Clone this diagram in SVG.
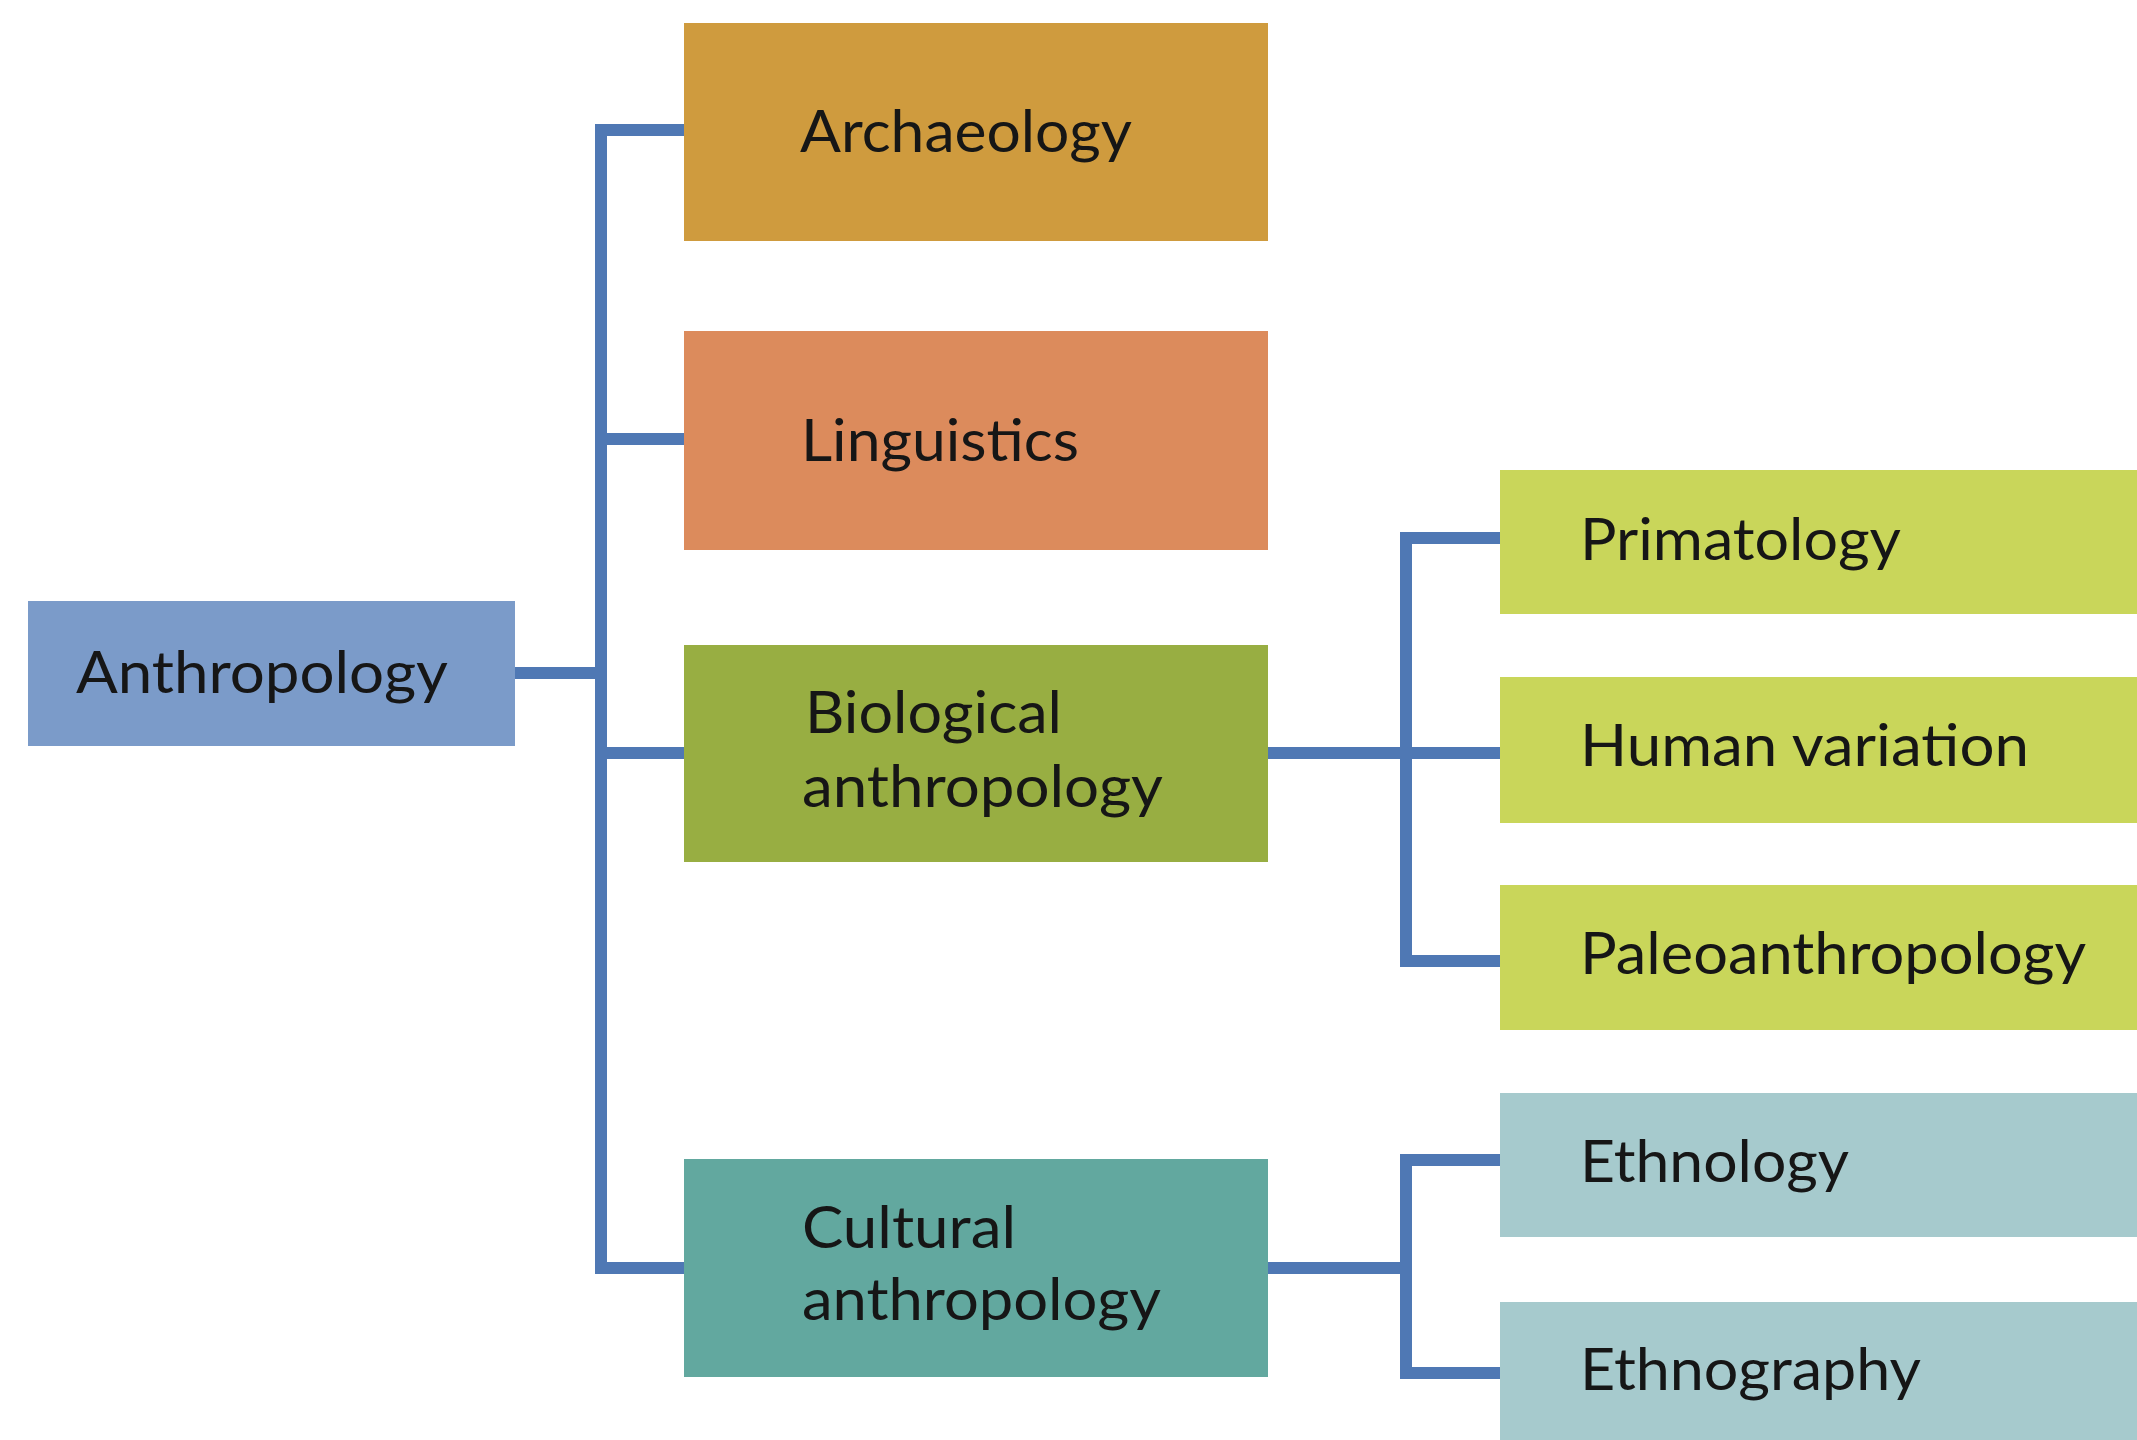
<svg xmlns="http://www.w3.org/2000/svg" width="2137" height="1440" viewBox="0 0 2137 1440">
<style>
.lbl{font-family:Lato,"Noto Sans","Liberation Sans",sans-serif;font-size:58px;fill:#161616}
.conn{stroke:#4f78b4;stroke-width:12;fill:none;stroke-linecap:square}
</style>
<rect width="2137" height="1440" fill="#ffffff"/>
<g id="connectors">
<path class="conn" d="M601,130 V1268"/>
<path class="conn" d="M515,673 H601"/>
<path class="conn" d="M601,130 H684"/>
<path class="conn" d="M601,439 H684"/>
<path class="conn" d="M601,753 H684"/>
<path class="conn" d="M601,1268 H684"/>
<path class="conn" d="M1268,753 H1406"/>
<path class="conn" d="M1406,538 V961"/>
<path class="conn" d="M1406,538 H1500"/>
<path class="conn" d="M1406,753 H1500"/>
<path class="conn" d="M1406,961 H1500"/>
<path class="conn" d="M1268,1268 H1406"/>
<path class="conn" d="M1406,1160 V1373"/>
<path class="conn" d="M1406,1160 H1500"/>
<path class="conn" d="M1406,1373 H1500"/>
</g>
<g id="anthropology">
<rect x="28" y="601" width="487" height="145" fill="#7b9bc9"/>
<text class="lbl" x="76" y="693" textLength="372" lengthAdjust="spacingAndGlyphs">Anthropology</text>
</g>
<g id="archaeology">
<rect x="684" y="23" width="584" height="218" fill="#cf9b3e"/>
<text class="lbl" x="800" y="152" textLength="332" lengthAdjust="spacingAndGlyphs">Archaeology</text>
</g>
<g id="linguistics">
<rect x="684" y="331" width="584" height="219" fill="#dc8b5c"/>
<text class="lbl" x="801" y="461" textLength="278" lengthAdjust="spacingAndGlyphs">Linguistics</text>
</g>
<g id="biological">
<rect x="684" y="645" width="584" height="217" fill="#98ae42"/>
<text class="lbl" x="805" y="733" textLength="257" lengthAdjust="spacingAndGlyphs">Biological</text>
<text class="lbl" x="802" y="807" textLength="361" lengthAdjust="spacingAndGlyphs">anthropology</text>
</g>
<g id="cultural">
<rect x="684" y="1159" width="584" height="218" fill="#62a89f"/>
<text class="lbl" x="802" y="1248" textLength="214" lengthAdjust="spacingAndGlyphs">Cultural</text>
<text class="lbl" x="802" y="1320" textLength="359" lengthAdjust="spacingAndGlyphs">anthropology</text>
</g>
<g id="primatology">
<rect x="1500" y="470" width="637" height="144" fill="#c9d65a"/>
<text class="lbl" x="1580" y="560" textLength="321" lengthAdjust="spacingAndGlyphs">Primatology</text>
</g>
<g id="human-variation">
<rect x="1500" y="677" width="637" height="146" fill="#c9d65a"/>
<text class="lbl" x="1580" y="766" textLength="449" lengthAdjust="spacingAndGlyphs">Human variation</text>
</g>
<g id="paleoanthropology">
<rect x="1500" y="885" width="637" height="145" fill="#c9d65a"/>
<text class="lbl" x="1580" y="974" textLength="506" lengthAdjust="spacingAndGlyphs">Paleoanthropology</text>
</g>
<g id="ethnology">
<rect x="1500" y="1093" width="637" height="144" fill="#a6cacd"/>
<text class="lbl" x="1580" y="1182" textLength="269" lengthAdjust="spacingAndGlyphs">Ethnology</text>
</g>
<g id="ethnography">
<rect x="1500" y="1302" width="637" height="138" fill="#a6cacd"/>
<text class="lbl" x="1580" y="1390" textLength="341" lengthAdjust="spacingAndGlyphs">Ethnography</text>
</g>
</svg>
